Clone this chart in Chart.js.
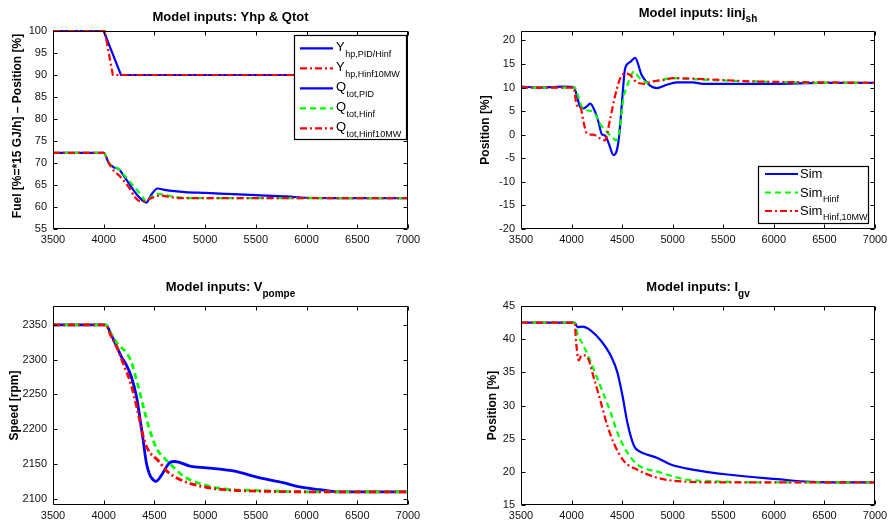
<!DOCTYPE html>
<html><head><meta charset="utf-8">
<script src="https://cdn.jsdelivr.net/npm/chart.js@4.4.1/dist/chart.umd.min.js"></script>
<style>
html,body{margin:0;padding:0;background:#fff;}
body{width:888px;height:527px;position:relative;overflow:hidden;}
canvas{position:absolute;display:block;}
</style></head><body>
<canvas id="c1" width="444" height="263" style="left:0;top:0"></canvas>
<canvas id="c2" width="444" height="263" style="left:444px;top:0"></canvas>
<canvas id="c3" width="444" height="264" style="left:0;top:263px"></canvas>
<canvas id="c4" width="444" height="264" style="left:444px;top:263px"></canvas>
<script>
// ---------- shared ticks ----------
const xTicks = [3500, 4000, 4500, 5000, 5500, 6000, 6500, 7000];
const yTicksFuel = [55, 60, 65, 70, 75, 80, 85, 90, 95, 100];
const yTicksInj = [-20, -15, -10, -5, 0, 5, 10, 15, 20];
const yTicksSpeed = [2100, 2150, 2200, 2250, 2300, 2350];
const yTicksIgv = [15, 20, 25, 30, 35, 40, 45];

// ---------- Panel 1: Yhp & Qtot ----------
const tYhpPid = [3500, 4000, 4170, 7000];
const yhpPid = [100, 100, 90, 90];
const tYhp10 = [3500, 4010, 4090, 7000];
const yhp10 = [100, 100, 90, 90];
const tQPid = [3500, 4000, 4050, 4100, 4150, 4200, 4250, 4300, 4350, 4420, 4470, 4530, 4600, 4700, 4800, 5000, 5200, 5500, 5800, 6000, 6500, 7000];
const qPid = [72.3, 72.3, 70.0, 69.0, 68.6, 67.0, 65.3, 63.6, 62.2, 61.0, 62.8, 64.2, 63.9, 63.6, 63.4, 63.2, 63.0, 62.7, 62.4, 62.1, 62.0, 62.0];
const tQHinf = [3500, 4000, 4050, 4100, 4150, 4200, 4300, 4380, 4420, 4470, 4530, 4600, 4700, 4800, 5000, 7000];
const qHinf = [72.3, 72.3, 70.0, 69.2, 68.6, 67.3, 64.6, 62.4, 61.2, 62.3, 63.0, 62.8, 62.3, 62.1, 62.0, 62.0];
const tQ10 = [3500, 4000, 4050, 4100, 4150, 4200, 4250, 4300, 4350, 4400, 4450, 4500, 4550, 4650, 4750, 7000];
const q10 = [72.3, 72.3, 70.0, 68.2, 67.2, 65.9, 64.4, 62.5, 61.4, 61.3, 61.8, 62.3, 62.6, 62.3, 62.0, 62.0];

// ---------- Panel 2: Iinj_sh ----------
const tInjSim = [3500, 3700, 3900, 4020, 4050, 4085, 4118, 4150, 4184, 4230, 4266, 4299, 4332, 4370, 4414, 4440, 4463, 4480, 4496, 4529, 4578, 4628, 4694, 4776, 4842, 4941, 5039, 5200, 5300, 5500, 6000, 6500, 7000];
const injSim = [10.2, 10.0, 10.2, 10.1, 8.5, 5.9, 5.6, 6.0, 6.6, 5.0, 2.7, 0.1, -0.2, -2.0, -4.3, -3.8, -1.5, 2.0, 6.2, 14.0, 15.4, 16.3, 12.6, 10.4, 9.9, 10.6, 11.1, 11.1, 10.8, 10.8, 10.8, 11.0, 11.0];
const tInjHinf = [3500, 4030, 4060, 4100, 4150, 4217, 4289, 4349, 4414, 4440, 4470, 4512, 4562, 4618, 4660, 4720, 4765, 4850, 5000, 5200, 5500, 6000, 6500, 7000];
const injHinf = [10.0, 10.0, 8.5, 6.0, 5.2, 4.8, 2.1, 0.6, -0.8, -1.2, 0.5, 7.6, 11.1, 13.4, 12.3, 11.3, 11.0, 11.5, 12.0, 11.8, 11.5, 11.2, 11.0, 11.0];
const tInj10 = [3500, 4020, 4052, 4085, 4118, 4151, 4217, 4283, 4330, 4382, 4431, 4480, 4529, 4578, 4644, 4717, 4800, 4915, 5000, 5300, 5800, 6500, 7000];
const inj10 = [10.0, 10.0, 6.2, 6.0, 2.7, 0.3, 0.0, -0.8, -1.2, 3.4, 8.3, 11.9, 13.0, 12.7, 11.1, 10.8, 11.3, 11.6, 12.0, 11.8, 11.3, 11.1, 11.0];

// ---------- Panel 3: Vpompe ----------
const tVSim = [3500, 4020, 4076, 4130, 4175, 4224, 4273, 4323, 4355, 4388, 4421, 4450, 4471, 4514, 4570, 4620, 4652, 4701, 4849, 5013, 5276, 5540, 5770, 5934, 6131, 6300, 7000];
const vSim = [2350, 2350, 2335, 2318, 2304, 2292, 2275, 2247, 2218, 2185, 2151, 2136, 2130, 2125, 2134, 2146, 2152, 2153.5, 2147, 2144.5, 2140, 2130, 2123, 2117, 2113, 2110, 2110];
const tVHinf = [3500, 4020, 4069, 4135, 4217, 4266, 4332, 4398, 4464, 4530, 4600, 4662, 4793, 4990, 5188, 5500, 6000, 7000];
const vHinf = [2350, 2350, 2338, 2323, 2311, 2299, 2266, 2228, 2194, 2170, 2158, 2149, 2132, 2120, 2114, 2112, 2110, 2110];
const tV10 = [3500, 4020, 4069, 4141, 4191, 4266, 4332, 4398, 4447, 4530, 4628, 4760, 4957, 5188, 5500, 6000, 7000];
const v10 = [2350, 2350, 2335, 2314, 2295, 2266, 2228, 2185, 2168, 2156, 2139, 2127, 2118, 2113, 2111, 2110, 2110];

// ---------- Panel 4: Igv ----------
const tGSim = [3500, 4030, 4059, 4108, 4191, 4289, 4388, 4453, 4503, 4552, 4618, 4680, 4717, 4848, 4980, 5210, 5539, 6032, 6362, 7000];
const gSim = [42.5, 42.5, 41.8, 41.9, 41.3, 39.8, 37.5, 35.0, 31.5, 27.4, 23.9, 23.0, 22.75, 22.1, 21.1, 20.3, 19.6, 18.9, 18.5, 18.4];
const tGHinf = [3500, 4026, 4059, 4125, 4191, 4256, 4322, 4388, 4453, 4552, 4651, 4881, 5111, 5374, 6000, 7000];
const gHinf = [42.5, 42.5, 40.8, 38.8, 36.5, 34.0, 31.5, 28.9, 25.9, 22.9, 21.1, 19.9, 18.9, 18.6, 18.4, 18.4];
const tG10 = [3500, 4030, 4045, 4070, 4100, 4150, 4223, 4289, 4355, 4421, 4519, 4651, 4848, 5046, 5500, 7000];
const g10 = [42.5, 42.5, 39.5, 36.8, 37.6, 37.4, 34.0, 30.5, 26.9, 24.2, 21.6, 20.3, 19.1, 18.6, 18.4, 18.4];

// ---------- styles ----------
const FONT = '"Liberation Sans", Arial, Helvetica, sans-serif';
const BLUE = {color: '#0000ff', dash: []};
const GREEN = {color: '#00ff00', dash: [6, 4]};
const RED = {color: '#ff0000', dash: [7, 3, 2, 3]};

const decor = {
  id: 'decor',
  afterDatasetsDraw(chart, args, o) {
    const ctx = chart.ctx, a = chart.chartArea;
    const xs = chart.scales.x, ys = chart.scales.y;
    ctx.save();
    ctx.strokeStyle = '#000'; ctx.lineWidth = 1; ctx.setLineDash([]);
    ctx.beginPath();
    const L = Math.round(a.left) + 0.5, R = Math.round(a.right) - 0.5, T = Math.round(a.top) + 0.5, B = Math.round(a.bottom) - 0.5;
    ctx.rect(L, T, R - L, B - T);
    const tl = 4;
    xs.ticks.forEach(t => {
      const p = Math.round(xs.getPixelForValue(t.value)) + 0.5;
      ctx.moveTo(p, B); ctx.lineTo(p, B - tl);
      ctx.moveTo(p, T); ctx.lineTo(p, T + tl);
    });
    ys.ticks.forEach(t => {
      const p = Math.round(ys.getPixelForValue(t.value)) + 0.5;
      ctx.moveTo(L, p); ctx.lineTo(L + tl, p);
      ctx.moveTo(R, p); ctx.lineTo(R - tl, p);
    });
    ctx.stroke();
    // legend
    if (o.legend) {
      const lg = o.legend;
      ctx.fillStyle = '#fff';
      ctx.fillRect(lg.box[0], lg.box[1], lg.box[2] - lg.box[0], lg.box[3] - lg.box[1]);
      ctx.strokeStyle = '#000'; ctx.lineWidth = 1.2;
      ctx.strokeRect(lg.box[0] + 0.5, lg.box[1] + 0.5, lg.box[2] - lg.box[0], lg.box[3] - lg.box[1]);
      lg.items.forEach((it, i) => {
        const ds = chart.data.datasets[it.ds];
        const y = lg.y0 + i * lg.dy;
        ctx.strokeStyle = ds.borderColor; ctx.lineWidth = ds.borderWidth; ctx.setLineDash(ds.borderDash || []);
        ctx.beginPath(); ctx.moveTo(lg.x0, y); ctx.lineTo(lg.x1, y); ctx.stroke();
        ctx.setLineDash([]);
        ctx.fillStyle = '#000'; ctx.textAlign = 'left'; ctx.textBaseline = 'alphabetic';
        ctx.font = lg.mainSize + 'px ' + FONT;
        ctx.fillText(it.main, lg.tx, y + lg.base);
        if (it.sub) {
          const w = ctx.measureText(it.main).width;
          ctx.font = lg.subSize + 'px ' + FONT;
          ctx.fillText(it.sub, lg.tx + w + 0.5, y + lg.base + lg.subOff);
        }
      });
    }
    ctx.restore();
  },
  afterDraw(chart, args, o) {
    const ctx = chart.ctx, a = chart.chartArea;
    ctx.save();
    ctx.fillStyle = '#000';
    ctx.textBaseline = 'alphabetic'; ctx.textAlign = 'left';
    ctx.font = 'bold 13px ' + FONT;
    const wm = ctx.measureText(o.title).width;
    let ws = 0;
    if (o.titleSub) { ctx.font = 'bold 10px ' + FONT; ws = ctx.measureText(o.titleSub).width; }
    const x0 = (a.left + a.right) / 2 - (wm + ws) / 2;
    ctx.font = 'bold 13px ' + FONT;
    ctx.fillText(o.title, x0, o.titleY);
    if (o.titleSub) { ctx.font = 'bold 10px ' + FONT; ctx.fillText(o.titleSub, x0 + wm, o.titleSubY); }
    // y label
    ctx.translate(o.ylabelX, (a.top + a.bottom) / 2 + (o.ylabelDy || 0));
    ctx.rotate(-Math.PI / 2);
    ctx.textAlign = 'center'; ctx.textBaseline = 'middle';
    ctx.font = 'bold 12px ' + FONT;
    ctx.fillText(o.ylabel, 0, 0);
    ctx.restore();
  }
};

function makeChart(id, cfg) {
  const c = document.getElementById(id);
  const W = c.width, H = c.height, A = cfg.area;
  const n = cfg.series.length;
  return new Chart(c, {
    type: 'line',
    data: {
      datasets: cfg.series.map((s, i) => ({
        label: s.label,
        data: s.t.map((t, k) => ({x: t, y: s.v[k]})),
        borderColor: s.style.color,
        borderDash: s.style.dash,
        borderWidth: cfg.lw,
        pointRadius: 0,
        fill: false,
        clip: false,
        tension: 0,
        cubicInterpolationMode: s.linear ? 'default' : 'monotone',
        order: n - i
      }))
    },
    options: {
      responsive: false, animation: false, events: [],
      layout: {padding: {top: A.top, right: W - A.right, left: 0, bottom: 0}},
      scales: {
        x: {
          type: 'linear', min: 3500, max: 7000,
          afterBuildTicks: s => { s.ticks = xTicks.map(v => ({value: v})); },
          afterFit: s => { s.height = H - A.bottom; s.paddingLeft = 0; s.paddingRight = 0; },
          grid: {display: false, drawTicks: false}, border: {display: false},
          ticks: {font: {family: FONT, size: 11}, color: '#111', padding: 4, maxRotation: 0, autoSkip: false, callback: v => String(v)}
        },
        y: {
          type: 'linear', position: 'left', min: cfg.ymin, max: cfg.ymax,
          afterBuildTicks: s => { s.ticks = cfg.yTicks.map(v => ({value: v})); },
          afterFit: s => { s.width = A.left; s.paddingTop = 0; s.paddingBottom = 0; },
          grid: {display: false, drawTicks: false}, border: {display: false},
          ticks: {font: {family: FONT, size: 11}, color: '#111', padding: 6, autoSkip: false, callback: v => String(v)}
        }
      },
      plugins: {legend: {display: false}, tooltip: {enabled: false}, decor: cfg.decor}
    },
    plugins: [decor]
  });
}

makeChart('c1', {
  area: {left: 53, right: 408, top: 31, bottom: 229}, lw: 2.2,
  ymin: 55, ymax: 100, yTicks: yTicksFuel,
  series: [
    {label: 'Yhp,PID/Hinf', t: tYhpPid, v: yhpPid, style: BLUE, linear: true},
    {label: 'Yhp,Hinf10MW', t: tYhp10, v: yhp10, style: RED, linear: true},
    {label: 'Qtot,PID', t: tQPid, v: qPid, style: BLUE},
    {label: 'Qtot,Hinf', t: tQHinf, v: qHinf, style: GREEN},
    {label: 'Qtot,Hinf10MW', t: tQ10, v: q10, style: RED}
  ],
  decor: {
    title: 'Model inputs: Yhp & Qtot', titleY: 20.5,
    ylabel: 'Fuel [%=*15 GJ/h] \u2013 Position [%]', ylabelX: 18, ylabelDy: -4,
    legend: {
      box: [294, 35, 406, 139], x0: 300, x1: 333, tx: 336, y0: 48.3, dy: 20,
      mainSize: 13, subSize: 9, base: 2.5, subOff: 6,
      items: [
        {ds: 0, main: 'Y', sub: 'hp,PID/Hinf'},
        {ds: 1, main: 'Y', sub: 'hp,Hinf10MW'},
        {ds: 2, main: 'Q', sub: 'tot,PID'},
        {ds: 3, main: 'Q', sub: 'tot,Hinf'},
        {ds: 4, main: 'Q', sub: 'tot,Hinf10MW'}
      ]
    }
  }
});

makeChart('c2', {
  area: {left: 77, right: 431, top: 31, bottom: 229}, lw: 2.2,
  ymin: -20, ymax: 22, yTicks: yTicksInj,
  series: [
    {label: 'Sim', t: tInjSim, v: injSim, style: BLUE},
    {label: 'SimHinf', t: tInjHinf, v: injHinf, style: GREEN},
    {label: 'SimHinf,10MW', t: tInj10, v: inj10, style: RED}
  ],
  decor: {
    title: 'Model inputs: Iinj', titleSub: 'sh', titleY: 16.7, titleSubY: 21.5,
    ylabel: 'Position [%]', ylabelX: 41.5,
    legend: {
      box: [314, 166, 424, 223], x0: 321, x1: 354, tx: 356, y0: 174, dy: 18.5,
      mainSize: 13, subSize: 9, base: 4, subOff: 5,
      items: [
        {ds: 0, main: 'Sim'},
        {ds: 1, main: 'Sim', sub: 'Hinf'},
        {ds: 2, main: 'Sim', sub: 'Hinf,10MW'}
      ]
    }
  }
});

makeChart('c3', {
  area: {left: 53, right: 408, top: 43, bottom: 242}, lw: 2.8,
  ymin: 2091, ymax: 2377, yTicks: yTicksSpeed,
  series: [
    {label: 'Sim', t: tVSim, v: vSim, style: BLUE},
    {label: 'SimHinf', t: tVHinf, v: vHinf, style: GREEN},
    {label: 'SimHinf,10MW', t: tV10, v: v10, style: RED}
  ],
  decor: {
    title: 'Model inputs: V', titleSub: 'pompe', titleY: 28.3, titleSubY: 33.5,
    ylabel: 'Speed [rpm]', ylabelX: 14.5
  }
});

makeChart('c4', {
  area: {left: 77, right: 431, top: 43, bottom: 242}, lw: 2.2,
  ymin: 15, ymax: 45, yTicks: yTicksIgv,
  series: [
    {label: 'Sim', t: tGSim, v: gSim, style: BLUE},
    {label: 'SimHinf', t: tGHinf, v: gHinf, style: GREEN},
    {label: 'SimHinf,10MW', t: tG10, v: g10, style: RED}
  ],
  decor: {
    title: 'Model inputs: I', titleSub: 'gv', titleY: 28.3, titleSubY: 33.5,
    ylabel: 'Position [%]', ylabelX: 49
  }
});
</script>
</body></html>
